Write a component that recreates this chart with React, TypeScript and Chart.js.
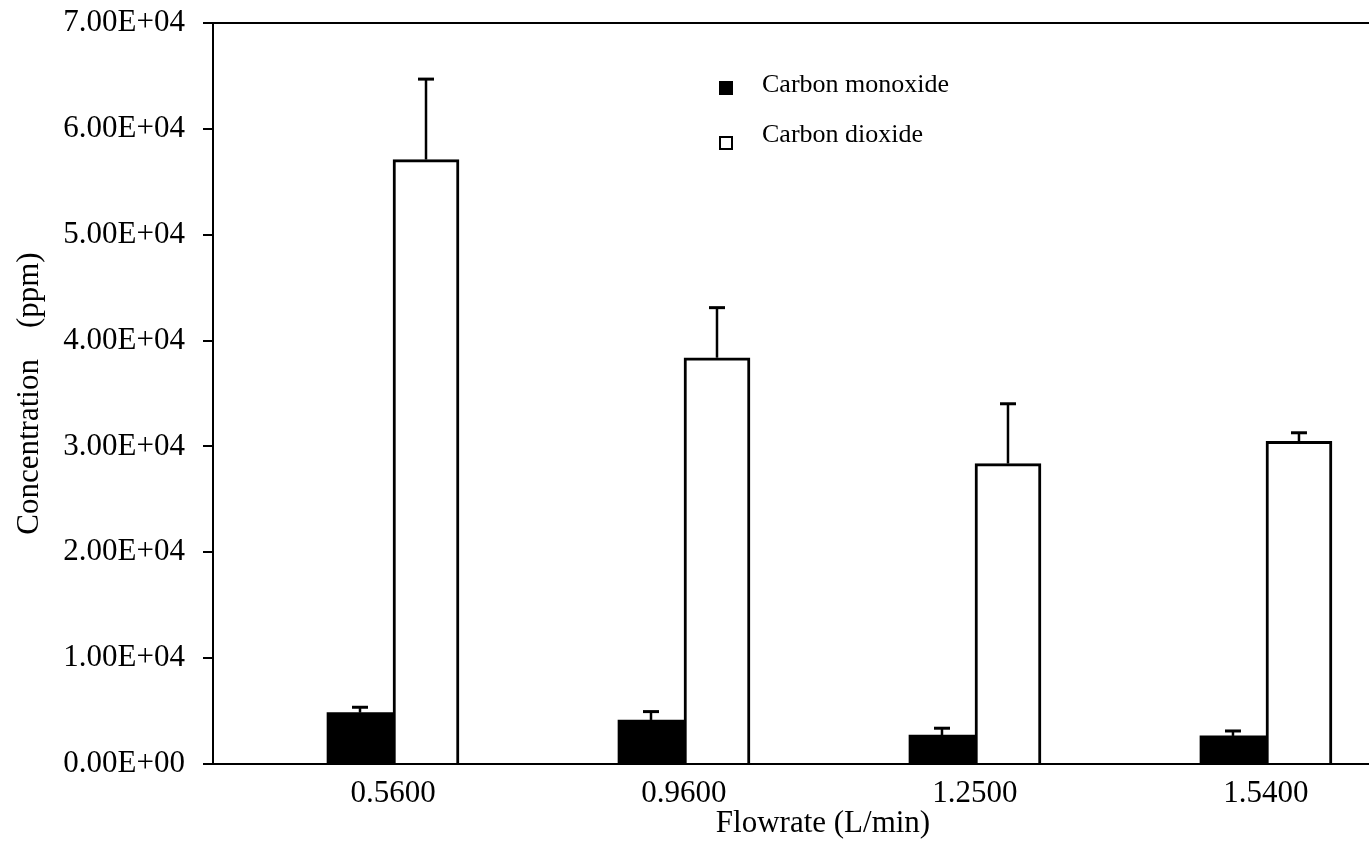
import React, { useEffect, useRef } from 'react';
import { Chart, registerables } from 'chart.js';

Chart.register(...registerables);

// ---- data ----
const flowrates = ['0.5600', '0.9600', '1.2500', '1.5400'];
const coValues = [4850, 4160, 2740, 2650];
const coErrors = [510, 790, 640, 470];
const co2Values = [57100, 38380, 28380, 30490];
const co2Errors = [7600, 4730, 5650, 800];
const yTickLabels = ['0.00E+00', '1.00E+04', '2.00E+04', '3.00E+04', '4.00E+04', '5.00E+04', '6.00E+04', '7.00E+04'];
const seriesNames = ['Carbon monoxide', 'Carbon dioxide'];
const xTitle = 'Flowrate (L/min)';
const yTitle = 'Concentration    (ppm)';

const FONT = "'Liberation Serif', 'Times New Roman', serif";
const errorSets = [coErrors, co2Errors];

const errorBarPlugin = {
  id: 'errorBars',
  afterDatasetsDraw(chart: any) {
    const ctx = chart.ctx;
    const yScale = chart.scales.y;
    chart.data.datasets.forEach((ds: any, di: number) => {
      const meta = chart.getDatasetMeta(di);
      const errs = errorSets[di];
      meta.data.forEach((el: any, i: number) => {
        const v = ds.data[i].y;
        const base = yScale.getPixelForValue(v);
        const top = yScale.getPixelForValue(v + errs[i]);
        ctx.save();
        ctx.strokeStyle = '#000';
        ctx.lineWidth = 2.5;
        ctx.beginPath();
        ctx.moveTo(el.x, base);
        ctx.lineTo(el.x, top);
        ctx.stroke();
        ctx.lineWidth = 3;
        ctx.beginPath();
        ctx.moveTo(el.x - 8, top);
        ctx.lineTo(el.x + 8, top);
        ctx.stroke();
        ctx.restore();
      });
    });
  },
};

const legendPlugin = {
  id: 'customLegend',
  afterDraw(chart: any) {
    const ctx = chart.ctx;
    const rows = [
      { boxY: 81, textY: 92 },
      { boxY: 136, textY: 142 },
    ];
    chart.data.datasets.forEach((ds: any, i: number) => {
      const r = rows[i];
      ctx.save();
      if (i === 0) {
        ctx.fillStyle = '#000';
        ctx.fillRect(719, r.boxY, 14, 14);
      } else {
        ctx.strokeStyle = '#000';
        ctx.lineWidth = 2;
        ctx.strokeRect(720, r.boxY + 1, 12, 12);
      }
      ctx.fillStyle = '#000';
      ctx.font = `26px ${FONT}`;
      ctx.textBaseline = 'alphabetic';
      ctx.textAlign = 'left';
      ctx.fillText(ds.label, 762, r.textY);
      ctx.restore();
    });
  },
};

export default function App() {
  const ref = useRef<HTMLCanvasElement>(null);

  useEffect(() => {
    const canvas = ref.current;
    if (!canvas) return;
    const idx = flowrates.map((_, i) => i);
    const chart = new Chart(canvas, {
      type: 'bar',
      data: {
        datasets: [
          {
            label: seriesNames[0],
            data: idx.map((i) => ({ x: i, y: coValues[i] })),
            backgroundColor: '#000',
            borderColor: '#000',
            borderWidth: 0,
            barThickness: 66,
          },
          {
            label: seriesNames[1],
            data: idx.map((i) => ({ x: i, y: co2Values[i] })),
            backgroundColor: '#fff',
            borderColor: '#000',
            borderWidth: 3,
            barThickness: 66,
          },
        ],
      },
      options: {
        responsive: false,
        animation: false,
        devicePixelRatio: 1,
        layout: { padding: { top: 23, left: 0, right: 0, bottom: 0 } },
        plugins: {
          legend: { display: false },
          tooltip: { enabled: false },
        },
        scales: {
          x: {
            type: 'linear',
            offset: false,
            min: -0.6186,
            max: 3.574,
            grid: { display: false, drawTicks: false },
            border: { display: true, color: '#000', width: 2 },
            afterBuildTicks: (scale: any) => {
              scale.ticks = idx.map((v) => ({ value: v }));
            },
            afterFit: (scale: any) => {
              scale.height = 86;
            },
            ticks: {
              autoSkip: false,
              maxRotation: 0,
              padding: 11,
              color: '#000',
              font: { family: FONT, size: 31 },
              callback: (v: any) => flowrates[v] ?? '',
            },
            title: {
              display: true,
              text: xTitle,
              color: '#000',
              font: { family: FONT, size: 31 },
              padding: { top: 0, bottom: 8 },
            },
          },
          y: {
            min: 0,
            max: 70000,
            grid: {
              color: (c: any) => (c.tick && c.tick.value === 70000 ? '#000' : 'rgba(0,0,0,0)'),
              tickColor: '#000',
              lineWidth: 2,
              tickLength: 10,
            },
            border: { display: true, color: '#000', width: 2 },
            afterFit: (scale: any) => {
              scale.width = 213;
            },
            ticks: {
              stepSize: 10000,
              padding: 18,
              color: '#000',
              font: { family: FONT, size: 31, lineHeight: 0.2 },
              callback: (_v: any, i: number) => yTickLabels[i],
            },
            title: {
              display: true,
              text: yTitle,
              color: '#000',
              font: { family: FONT, size: 31 },
              padding: { top: 11, bottom: 0 },
            },
          },
        },
      } as any,
      plugins: [errorBarPlugin, legendPlugin],
    });
    return () => chart.destroy();
  }, []);

  return (
    <div
      style={{
        position: 'fixed',
        left: 0,
        top: 0,
        width: 1369,
        height: 850,
        overflow: 'hidden',
        background: '#fff',
      }}
    >
      <canvas ref={ref} width={1433} height={850} style={{ display: 'block', width: 1433, height: 850 }} />
    </div>
  );
}
